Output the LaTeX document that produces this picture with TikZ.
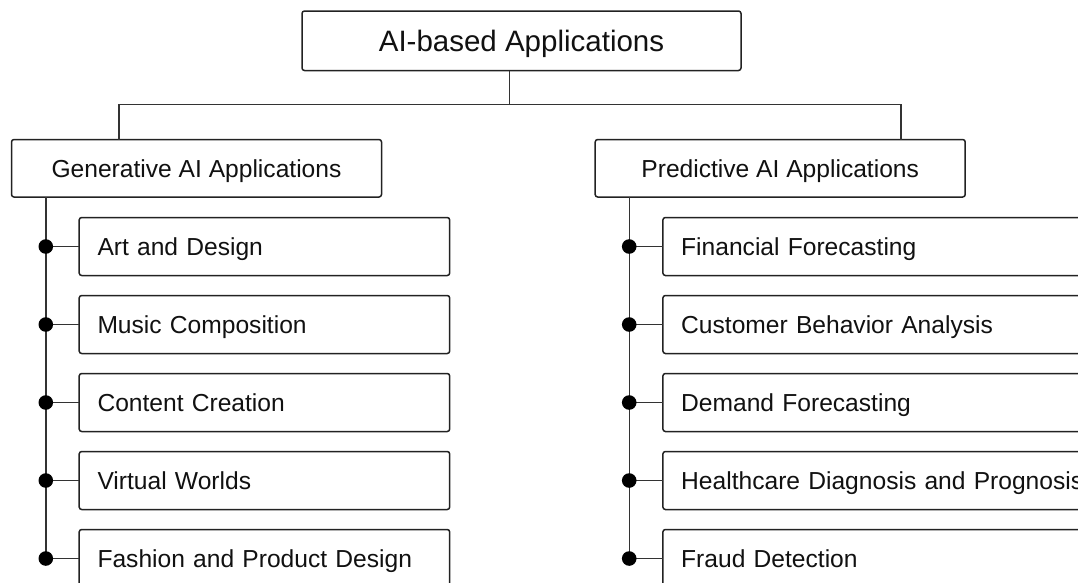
\documentclass[tikz,border=0pt]{standalone}
\usepackage{fontspec}
\setmainfont{Liberation Sans}
\definecolor{boxline}{HTML}{222222}
\definecolor{connline}{HTML}{333333}
\definecolor{txt}{HTML}{111111}
\begin{document}
\begin{tikzpicture}[x=1pt,y=-1pt,
  boxbase/.style={draw=boxline, line width=1.5pt, rounded corners=2.5pt, fill=white, text=txt,
    text depth=0pt, outer sep=0pt},
  topbox/.style={boxbase, minimum width=439pt, minimum height=59.5pt, inner sep=0pt,
    text height=21.1pt, font=\fontsize{29.5}{35}\selectfont},
  catbox/.style={boxbase, minimum width=370pt, minimum height=57.5pt, inner sep=0pt,
    text height=17.6pt, font=\fontsize{24.6}{29}\selectfont},
  leafbox/.style={boxbase, anchor=west, minimum height=58pt, inner xsep=18.3pt, inner ysep=0pt,
    text height=17.6pt, align=left, font=\fontsize{24.6}{29}\selectfont},
  conn/.style={draw=connline, line width=1.4pt},
  dot/.style={fill=black},
]
\useasboundingbox (0,0) rectangle (1078,582);
\clip (0,0) rectangle (1078,582);
\fill[white] (0,0) rectangle (1078,582);

% top
\node[topbox] (top) at (521.5,40.75) {AI-based Applications};
% categories
\node[catbox] (gen) at (196.5,168.25) {Generative AI Applications};
\node[catbox] (pred) at (780.2,168.25) {Predictive AI Applications};

\coordinate (j) at (509.5,104.5);
\coordinate (gj) at (119,104.5);
\coordinate (pj) at (901,104.5);
\draw[conn] (top.south -| j) -- (j);
\draw[conn] (gen.north -| gj) -- (gj) -- (pj) -- (pred.north -| pj);

% leaves left
\node[leafbox, text width=333.9pt] (g1) at (79.2,246.5) {Art and Design};
\node[leafbox, text width=333.9pt] (g2) at (79.2,324.5) {Music Composition};
\node[leafbox, text width=333.9pt] (g3) at (79.2,402.5) {Content Creation};
\node[leafbox, text width=333.9pt] (g4) at (79.2,480.5) {Virtual Worlds};
\node[leafbox, text width=333.9pt] (g5) at (79.2,558.5) {Fashion and Product Design};

% leaves right
\node[leafbox, text width=420pt] (p1) at (662.9,246.5) {Financial Forecasting};
\node[leafbox, text width=420pt] (p2) at (662.9,324.5) {Customer Behavior Analysis};
\node[leafbox, text width=420pt] (p3) at (662.9,402.5) {Demand Forecasting};
\node[leafbox, text width=420pt] (p4) at (662.9,480.5) {Healthcare Diagnosis and Prognosis};
\node[leafbox, text width=420pt] (p5) at (662.9,558.5) {Fraud Detection};

\coordinate (gx) at (45.8,0);
\coordinate (px) at (629.2,0);
\draw[conn] (gen.south -| gx) -- (g5.west -| gx);
\draw[conn] (pred.south -| px) -- (p5.west -| px);
\foreach \n in {1,...,5}{
  \draw[conn] (g\n.west -| gx) -- (g\n.west);
  \fill[dot] (g\n.west -| gx) circle (7.3pt);
  \draw[conn] (p\n.west -| px) -- (p\n.west);
  \fill[dot] (p\n.west -| px) circle (7.3pt);
}
\end{tikzpicture}
\end{document}
